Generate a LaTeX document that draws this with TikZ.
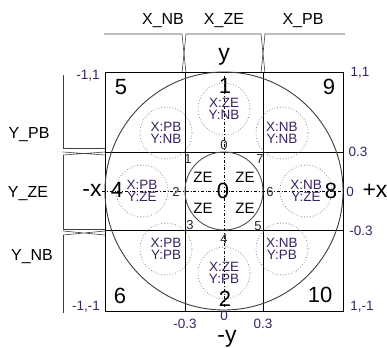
\documentclass[tikz,border=0pt]{standalone}
\usepackage{fontspec}
\setmainfont{Liberation Sans}
\definecolor{lblpurple}{HTML}{3A2260}
\definecolor{ringgray}{HTML}{3C3C3C}
\definecolor{innergray}{HTML}{505050}
\definecolor{dotgray}{HTML}{8C8C8C}
\usetikzlibrary{calc}

\begin{document}
\begin{tikzpicture}[
  x=1pt, y=-1pt,
  grid/.style     = {draw=black, line width=0.7pt},
  memb/.style     = {draw=black!75, line width=0.6pt},
  ring/.style     = {draw=ringgray, line width=0.9pt},
  inner/.style    = {draw=innergray, line width=0.9pt},
  rulecirc/.style = {draw=dotgray, dotted, line width=0.8pt},
  axis/.style     = {draw=black, line width=0.6pt, dash dot},
  region/.style   = {font=\fontsize{22}{22}\selectfont, inner sep=0pt},
  axlbl/.style    = {font=\fontsize{23}{23}\selectfont, inner sep=0pt},
  setlbl/.style   = {font=\fontsize{16}{16}\selectfont, inner sep=0pt, anchor=base},
  zelbl/.style    = {font=\fontsize{15}{14}\selectfont, inner sep=0pt},
  rulelbl/.style  = {font=\fontsize{13.5}{12}\selectfont, text=lblpurple,
                     align=center, inner sep=0pt},
  num/.style      = {font=\fontsize{13}{12}\selectfont, text=black!85, inner sep=0pt},
  coordlbl/.style = {font=\fontsize{13.5}{13}\selectfont, text=lblpurple, inner sep=0pt}
]
\useasboundingbox (0,0) rectangle (387,347);
\coordinate (o) at (224,191);

% membership functions
\draw[memb] (104,34) -- (182,34) -- (186,73);
\draw[memb] (182,73) -- (186,34) -- (261,34) -- (265,73);
\draw[memb] (261,73) -- (265,34) -- (345,34);
\draw[memb] (63,75) -- (63,148) -- (105,148);
\draw[memb] (63,152) -- (105,155) (63,155) -- (105,152);
\draw[memb] (63,155) -- (63,229) -- (105,229);
\draw[memb] (63,231) -- (105,235) (63,235) -- (105,231);
\draw[memb] (63,235) -- (63,313);

% grid
\draw[grid] (105,72) rectangle (343,311);
\foreach \gx in {185,263}
  \draw[grid] (\gx,72) -- (\gx,311);
\foreach \gy in {152,230}
  \draw[grid] (105,\gy) -- (343,\gy);

% circles
\draw[ring]  (o) circle[radius=119pt];
\draw[inner] (o) circle[radius=39pt];
\draw[axis] (102,191) -- (343,191);
\draw[axis] (224,76) -- (224,308);

\foreach \ang/\xl/\yl in {90/ZE/NB, 135/PB/NB, 45/NB/NB, 180/PB/ZE,
                          0/NB/ZE, 225/PB/PB, 270/ZE/PB, 315/NB/PB} {
  \draw[rulecirc] ($(o)+(\ang:82pt)$) circle[radius=26pt];
  \node[rulelbl] (rule\ang) at ($(o)+(\ang:82pt)$) {X:\xl\\Y:\yl};
}

% set labels
\node[setlbl] (xnb) at (163,25) {X\_NB};
\node[setlbl] (xze) at (224,25) {X\_ZE};
\node[setlbl] (xpb) at (303,25) {X\_PB};
\node[setlbl] (ypb) at (29,139) {Y\_PB};
\node[setlbl] (yze) at (28,197) {Y\_ZE};
\node[setlbl] (ynb) at (32,260) {Y\_NB};

% axes
\node[axlbl, anchor=base] (ypos) at (224,61)  {y};
\node[axlbl, anchor=base] (yneg) at (227,342) {-y};
\node[axlbl] (xneg) at (92,190)  {-x};
\node[axlbl] (xpos) at (375,191) {+x};

% regions
\foreach \rx/\ry/\rt in {121/87/5, 329/87/9, 225/86/1, 117/190/4, 223/191/0,
                         331/191/8, 120/296/6, 225/299/2, 320/295/10}
  \node[region] (reg\rt) at (\rx,\ry) {\rt};

\foreach \zx/\zy [count=\i] in {203/177, 245/177, 203/208, 245/208}
  \node[zelbl] (ze\i) at (\zx,\zy) {ZE};

% sub-region numbers
\foreach \sx/\sy/\st in {188/159/1, 176/192/2, 190/225/3, 224/239/4,
                         258/226/5, 270/192/6, 260/159/7, 224/145/0}
  \node[num] (sub\st) at (\sx,\sy) {\st};

% coordinates
\node[coordlbl] (cnw) at (88,76)   {-1,1};
\node[coordlbl] (cne) at (360,73)  {1,1};
\node[coordlbl] (csw) at (86,307)  {-1,-1};
\node[coordlbl] (cse) at (362,307) {1,-1};
\node[coordlbl] (ry1) at (358,152) {0.3};
\node[coordlbl] (ry0) at (350,192) {0};
\node[coordlbl] (ry2) at (361,231) {-0.3};
\node[coordlbl] (bx1) at (185,324) {-0.3};
\node[coordlbl] (bx0) at (224,316) {0};
\node[coordlbl] (bx2) at (263,324) {0.3};
\end{tikzpicture}
\end{document}
